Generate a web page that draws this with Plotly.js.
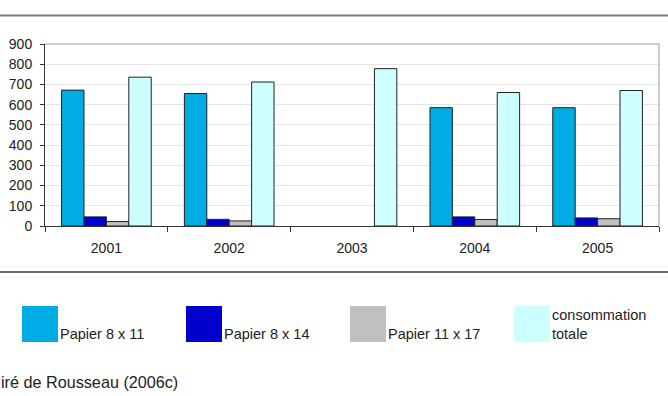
<!DOCTYPE html>
<html>
<head>
<meta charset="utf-8">
<script src="https://cdn.plot.ly/plotly-3.0.1.min.js"></script>
<style>
  html, body { margin: 0; padding: 0; background: #fff; }
  #chart { width: 668px; height: 396px; }
</style>
</head>
<body>
<div id="chart"></div>
<script>
// Consommation de papier par année
const years = ['2001', '2002', '2003', '2004', '2005'];
const papier8x11 = [672, 655, null, 585, 585];
const papier8x14 = [45, 33, null, 45, 40];
const papier11x17 = [22, 25, null, 32, 36];
const consommationTotale = [736, 712, 778, 660, 670];

const seriesNames = ['Papier 8 x 11', 'Papier 8 x 14', 'Papier 11 x 17', 'consommation<br>totale'];
const seriesColors = ['#00ACE6', '#0000CC', '#C0C0C0', '#CCFFFF'];
const seriesValues = [papier8x11, papier8x14, papier11x17, consommationTotale];

const yTicks = [0, 100, 200, 300, 400, 500, 600, 700, 800, 900];
const sourceText = 'iré de Rousseau (2006c)';

// plot frame in pixels
const W = 668, H = 396;
const L = 45, R = 659, T = 44, B = 226;
const px = x => (x - L) / (R - L);
const py = y => (B - y) / (B - T);

const font = { family: '"Liberation Sans", Arial, sans-serif', color: '#222' };

const traces = seriesValues.map((vals, i) => ({
  type: 'bar',
  x: years,
  y: vals,
  name: seriesNames[i],
  marker: { color: seriesColors[i], line: { color: '#222', width: 1 } },
  hoverinfo: 'x+y'
}));

const shapes = [
  // separators above and below the chart
  { type: 'line', xref: 'paper', yref: 'paper', x0: px(0), x1: px(W), y0: py(15.5), y1: py(15.5),
    line: { color: '#7a7a7a', width: 2 } },
  { type: 'line', xref: 'paper', yref: 'paper', x0: px(0), x1: px(W), y0: py(272), y1: py(272),
    line: { color: '#6a6a6a', width: 2 } },
  // top and right frame of the plotting area
  { type: 'line', xref: 'paper', yref: 'paper', x0: 0, x1: 1, y0: 1, y1: 1,
    line: { color: '#9a9a9a', width: 1 } },
  { type: 'line', xref: 'paper', yref: 'paper', x0: 1, x1: 1, y0: 0, y1: 1,
    line: { color: '#9a9a9a', width: 1 } }
];

const annotations = [];
const legendX0 = 22, legendStep = 164, boxW = 36, boxTop = 306, boxBottom = 342;
seriesNames.forEach((name, i) => {
  const x0 = legendX0 + i * legendStep;
  shapes.push({
    type: 'rect', xref: 'paper', yref: 'paper',
    x0: px(x0), x1: px(x0 + boxW), y0: py(boxBottom), y1: py(boxTop),
    fillcolor: seriesColors[i], line: { width: 0 }
  });
  annotations.push({
    xref: 'paper', yref: 'paper', x: px(x0 + boxW), y: py(boxBottom + 2),
    xanchor: 'left', yanchor: 'bottom', align: 'left',
    text: name, showarrow: false,
    font: Object.assign({ size: 14.5 }, font)
  });
});

annotations.push({
  xref: 'paper', yref: 'paper', x: px(-1), y: py(382),
  xanchor: 'left', yanchor: 'middle', align: 'left',
  text: sourceText, showarrow: false,
  font: Object.assign({ size: 16.2 }, font)
});

const layout = {
  width: W, height: H,
  margin: { l: L, r: W - R, t: T, b: H - B, pad: 0 },
  paper_bgcolor: '#fff', plot_bgcolor: '#fff',
  showlegend: false,
  barmode: 'group',
  bargap: 0.27,
  bargroupgap: 0,
  font: Object.assign({ size: 14 }, font),
  xaxis: {
    type: 'category',
    tickson: 'boundaries',
    ticks: 'outside', ticklen: 5, tickcolor: '#333', tickwidth: 1,
    showline: true, linecolor: '#333', linewidth: 1,
    showgrid: false, zeroline: false,
    tickfont: Object.assign({ size: 14 }, font),
    ticklabelstandoff: 9
  },
  yaxis: {
    range: [0, 900],
    tickvals: yTicks,
    ticks: 'outside', ticklen: 4, tickcolor: '#333', tickwidth: 1,
    showline: true, linecolor: '#333', linewidth: 1,
    showgrid: true, gridcolor: '#E6E6E6', gridwidth: 1,
    zeroline: false,
    tickfont: Object.assign({ size: 14 }, font),
    ticklabelstandoff: 5
  },
  shapes: shapes,
  annotations: annotations
};

Plotly.newPlot('chart', traces, layout, { staticPlot: true, displayModeBar: false });
</script>
</body>
</html>
